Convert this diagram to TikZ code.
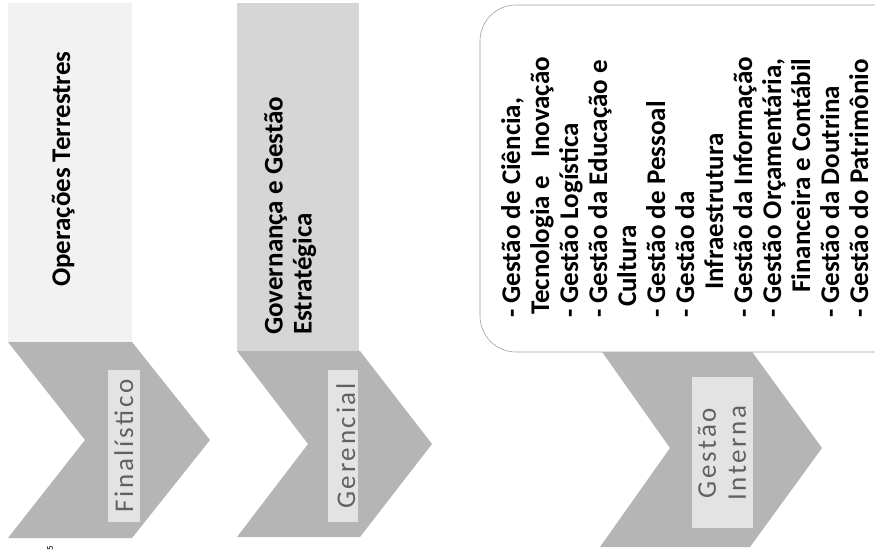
\documentclass[tikz,border=0pt]{standalone}
\usepackage{fontspec}
\setmainfont{Carlito}
\newfontfamily\trackfont[LetterSpace=10]{Carlito}

\begin{document}
\begin{tikzpicture}[x=1pt, y=1pt,
    every node/.style={inner sep=0pt, rotate=90},
    title/.style={font=\fontsize{27}{29}\selectfont\bfseries, align=left},
    tag/.style={font=\trackfont\fontsize{27}{30}\selectfont, text=black!62, align=center},
    tagbox/.style={fill=gray!22},
    chevron/.style={fill=gray!58},
    panel/.style={draw=gray!75, line width=0.6pt, fill=white, rounded corners=36pt}]
  \clip (0,0) rectangle (875,-556);
  \fill[white] (0,0) rectangle (875,-556);

  \fill[gray!10] (8,-3) rectangle (132,-342);
  \fill[chevron] (8,-342) -- (132,-342) -- (210,-440) -- (132,-538) -- (8,-538) -- (85,-440) -- cycle;
  \fill[tagbox] (108,-370) rectangle (140,-522);
  \node[title, anchor=base west] (op) at (70,-287) {Operações Terrestres};
  \node[tag, anchor=base] (fin) at (133,-446) {Finalístico};
  \node[font=\fontsize{9}{9}\selectfont] (mark) at (50,-548) {5};

  \fill[gray!32] (237,-3) rectangle (359,-351);
  \fill[chevron] (237,-351) -- (360,-351) -- (432,-444) -- (360,-537) -- (237,-537) -- (308,-444) -- cycle;
  \fill[tagbox] (328,-370) rectangle (358,-522);
  \node[title, anchor=north west] (gov) at (264,-335) {Governança e Gestão\\Estratégica};
  \node[tag, anchor=base] (ger) at (355,-446) {Gerencial};

  \fill[chevron] (600,-349) -- (750,-349) -- (822,-448) -- (750,-547) -- (600,-547) -- (670,-448) -- cycle;
  \draw[panel] (480,-5) rectangle (920,-352);
  \fill[tagbox] (692,-377) rectangle (753,-528);
  \node[tag] (gi) at (722,-453) {Gestão\\Interna};
  \node[title, anchor=north west] (list) at (501,-318) {- Gestão de Ciência,\\
    \hspace*{3pt}Tecnologia e\ \ \ Inovação\\
    - Gestão Logística\\
    - Gestão da Educação e\\
    \hspace*{11pt}Cultura\\
    - Gestão de Pessoal\\
    - Gestão da\\
    \hspace*{28pt}Infraestrutura\\
    - Gestão da Informação\\
    - Gestão Orçamentária,\\
    \hspace*{25pt}Financeira e Contábil\\
    - Gestão da Doutrina\\
    - Gestão do Patrimônio};
\end{tikzpicture}
\end{document}
